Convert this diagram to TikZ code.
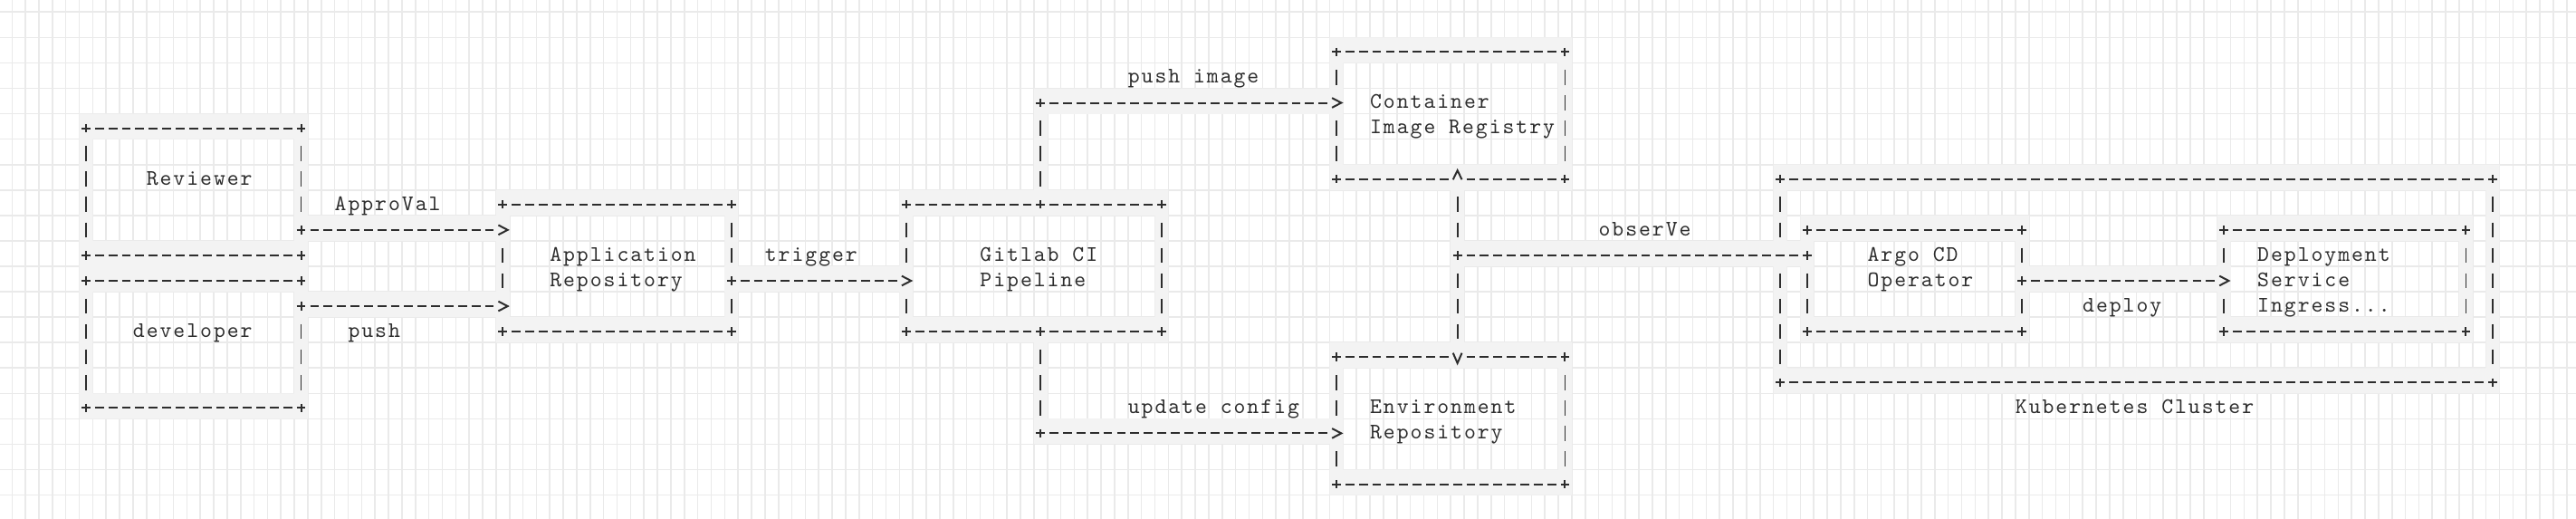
\documentclass[tikz,border=0pt]{standalone}
\usepackage{fontspec}
\newfontfamily\asciifam[LetterSpace=8.0]{lmmono10-regular.otf}
\definecolor{band}{RGB}{243,243,243}
\definecolor{gridc}{RGB}{234,234,234}
\definecolor{ink}{RGB}{45,45,45}
\newlength{\cellw}\setlength{\cellw}{7.425pt}
\newlength{\cellh}\setlength{\cellh}{14.035pt}
\tikzset{
  glyph/.style={draw=ink, line width=1pt, line cap=butt, line join=miter},
  hdash/.style={glyph, dash pattern=on 4.9pt off 2.525pt, dash phase=6.163pt,
    shorten <=3.7125pt, shorten >=3.7125pt},
  vdash/.style={draw=ink, line width=0.9pt, dash pattern=on 8.28pt off 5.755pt,
    dash phase=11.158pt, shorten <=7.0175pt, shorten >=7.0175pt},
  boxnode/.style={rectangle, draw=none, inner sep=0pt, outer sep=0pt},
  lbl/.style={anchor=base west, inner sep=0pt, outer sep=0pt, text=ink,
    font=\asciifam\fontsize{12.27pt}{14pt}\selectfont},
  gridline/.style={draw=gridc, line width=0.8pt},
  cellfill/.pic={\fill[band] (-0.5,-0.57) rectangle (0.5,0.43);},
  gplus/.pic={\draw[glyph] (-0.33,0) -- (0.33,0) (0,-0.168) -- (0,0.168);},
  pplus/.pic={\fill[band] (-0.5,-0.57) rectangle (0.5,0.43);
    \draw[glyph] (-0.33,0) -- (0.33,0) (0,-0.168) -- (0,0.168);},
  pgt/.pic={\fill[band] (-0.5,-0.57) rectangle (0.5,0.43);
    \draw[glyph] (-0.33,-0.19) -- (0.36,0) -- (-0.33,0.19);},
  pup/.pic={\fill[band] (-0.5,-0.57) rectangle (0.5,0.43);
    \draw[glyph] (-0.33,0.02) -- (0,-0.34) -- (0.33,0.02);},
  pdown/.pic={\fill[band] (-0.5,-0.57) rectangle (0.5,0.43);
    \draw[glyph] (-0.33,-0.16) -- (0,0.24) -- (0.33,-0.16);},
}
% #1 name, #2 left col, #3 top row, #4 right col, #5 bottom row
\newcommand{\asciibox}[5]{%
  \fill[band, even odd rule] ({#2-0.5},{#3-0.57}) rectangle ({#4+0.5},{#5+0.43})
    ({#2+0.5},{#3+0.43}) rectangle ({#4-0.5},{#5-0.57});
  \node[boxnode, minimum width={(#4-#2)*\cellw}, minimum height={(#5-#3)*\cellh}]
    (#1) at ({(#2+#4)/2},{(#3+#5)/2}) {};
  \draw[hdash] (#1.north west) -- (#1.north east);
  \draw[hdash] (#1.south west) -- (#1.south east);
  \draw[vdash] (#1.north west) -- (#1.south west);
  \draw[vdash] (#1.north east) -- (#1.south east);
  \pic at (#1.north west) {gplus};
  \pic at (#1.north east) {gplus};
  \pic at (#1.south west) {gplus};
  \pic at (#1.south east) {gplus};
}
\newcommand{\hband}[3]{\fill[band] ({#2-0.5},{#1-0.57}) rectangle ({#3+0.5},{#1+0.43});}
\newcommand{\vband}[3]{\fill[band] ({#1-0.5},{#2-0.57}) rectangle ({#1+0.5},{#3+0.43});}

\begin{document}
\begin{tikzpicture}[x=7.425pt, y=-14.035pt]
\useasboundingbox (-1.3956,-2.0438) rectangle (190.19,18.369);
\fill[white] (-1.3956,-2.0438) rectangle (190.19,18.369);
% grid
\foreach \i in {0,...,190} \draw[gridline] ({\i-0.5},-2.0438) -- ({\i-0.5},18.369);
\foreach \j in {-1,...,18} \draw[gridline] (-1.3956,{\j-0.57}) -- (190.19,{\j-0.57});
% connector bands
\hband{7}{21}{36}
\hband{10}{21}{36}
\hband{9}{53}{66}
\vband{76}{2}{6}
\hband{2}{76}{98}
\vband{76}{11}{15}
\hband{15}{76}{98}
\hband{8}{107}{133}
\vband{107}{5}{12}
\hband{9}{149}{164}
% boxes
\asciibox{rev}{5}{3}{21}{8}
\asciibox{dev}{5}{9}{21}{14}
\asciibox{app}{36}{6}{53}{11}
\asciibox{git}{66}{6}{85}{11}
\asciibox{reg}{98}{0}{115}{5}
\asciibox{env}{98}{12}{115}{17}
\asciibox{k8s}{131}{5}{184}{13}
\asciibox{argo}{133}{7}{149}{11}
\asciibox{dep}{164}{7}{182}{11}
% approval
\pic at (rev.east |- 0,7) {pplus};
\pic at (app.west |- 0,7) {pgt};
\draw[hdash] (rev.east |- 0,7) -- (app.west |- 0,7);
% push
\pic at (dev.east |- 0,10) {pplus};
\pic at (app.west |- 0,10) {pgt};
\draw[hdash] (dev.east |- 0,10) -- (app.west |- 0,10);
% trigger
\pic at (app.east |- 0,9) {pplus};
\pic at (git.west |- 0,9) {pgt};
\draw[hdash] (app.east |- 0,9) -- (git.west |- 0,9);
% push image
\coordinate (pi) at (76,2);
\pic at (git.north -| pi) {pplus};
\pic at (pi) {gplus};
\pic at (reg.west |- pi) {pgt};
\draw[vdash] (pi) -- (git.north -| pi);
\draw[hdash] (pi) -- (reg.west |- pi);
% update config
\coordinate (uc) at (76,15);
\pic at (git.south -| uc) {pplus};
\pic at (uc) {gplus};
\pic at (env.west |- uc) {pgt};
\draw[vdash] (git.south -| uc) -- (uc);
\draw[hdash] (uc) -- (env.west |- uc);
% observe
\coordinate (ob) at (107,8);
\pic at (k8s.west |- ob) {cellfill};
\pic at (argo.west |- ob) {pplus};
\pic at (ob) {gplus};
\pic at (reg.south -| ob) {pup};
\pic at (env.north -| ob) {pdown};
\draw[hdash] (argo.west |- ob) -- (ob);
\draw[vdash] (reg.south -| ob) -- (ob);
\draw[vdash] (ob) -- (env.north -| ob);
% deploy
\pic at (argo.east |- 0,9) {pplus};
\pic at (dep.west |- 0,9) {pgt};
\draw[hdash] (argo.east |- 0,9) -- (dep.west |- 0,9);
% labels
\node[lbl] (rev-t) at (9.5,5.225) {Reviewer};
\node[lbl] (dev-t) at (8.5,11.225) {developer};
\node[lbl] (appr-t) at (23.5,6.225) {ApproVal};
\node[lbl] (push-t) at (24.5,11.225) {push};
\node[lbl] (app-t1) at (39.5,8.225) {Application};
\node[lbl] (app-t2) at (39.5,9.225) {Repository};
\node[lbl] (trig-t) at (55.5,8.225) {trigger};
\node[lbl] (git-t1) at (71.5,8.225) {Gitlab CI};
\node[lbl] (git-t2) at (71.5,9.225) {Pipeline};
\node[lbl] (pimg-t) at (82.5,1.225) {push image};
\node[lbl] (reg-t1) at (100.5,2.225) {Container};
\node[lbl] (reg-t2) at (100.5,3.225) {Image Registry};
\node[lbl] (upd-t) at (82.5,14.225) {update config};
\node[lbl] (env-t1) at (100.5,14.225) {Environment};
\node[lbl] (env-t2) at (100.5,15.225) {Repository};
\node[lbl] (obs-t) at (117.5,7.225) {obserVe};
\node[lbl] (argo-t1) at (137.5,8.225) {Argo CD};
\node[lbl] (argo-t2) at (137.5,9.225) {Operator};
\node[lbl] (depl-t) at (153.5,10.225) {deploy};
\node[lbl] (dep-t1) at (166.5,8.225) {Deployment};
\node[lbl] (dep-t2) at (166.5,9.225) {Service};
\node[lbl] (dep-t3) at (166.5,10.225) {Ingress...};
\node[lbl] (k8s-t) at (148.5,14.225) {Kubernetes Cluster};
\end{tikzpicture}
\end{document}
